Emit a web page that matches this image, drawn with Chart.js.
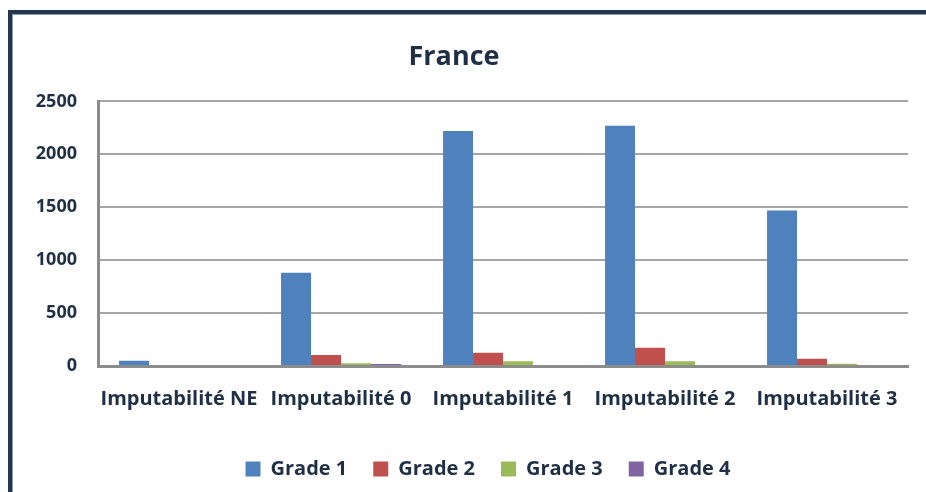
<!DOCTYPE html>
<html>
<head>
<meta charset="utf-8">
<script src="https://cdn.jsdelivr.net/npm/chart.js@4/dist/chart.umd.min.js"></script>
<style>
  html, body { margin: 0; padding: 0; background: #ffffff; }
  #wrap { position: relative; width: 926px; height: 492px; overflow: hidden; background: #fff; }
  #frame { position: absolute; left: 8px; top: 10px; width: 940px; height: 479px;
           border-top: 4px solid #22364f; border-left: 4px solid #22364f; border-bottom: 2px solid #bdbdbd;
           box-shadow: inset 1px 1px 0 #8a9ab0; }
  #c { position: absolute; left: 0; top: 0; }
</style>
</head>
<body>
<div id="wrap">
  <div id="frame"></div>
  <canvas id="c" width="926" height="492"></canvas>
</div>
<script>
const title = "France";
const categories = ["Imputabilité NE", "Imputabilité 0", "Imputabilité 1", "Imputabilité 2", "Imputabilité 3"];
const seriesNames = ["Grade 1", "Grade 2", "Grade 3", "Grade 4"];
const grade1 = [50, 880, 2220, 2270, 1470];
const grade2 = [0, 105, 125, 172, 68];
const grade3 = [0, 25, 45, 45, 22];
const grade4 = [0, 20, 0, 0, 0];
const yTicks = [0, 500, 1000, 1500, 2000, 2500];
const colors = ["#4f81bd", "#c0504d", "#9bbb59", "#8064a2"];

const textColor = "#1f2f46";
const fontFamily = "'Open Sans', Lato, 'DejaVu Sans', sans-serif";
const seriesValues = [grade1, grade2, grade3, grade4];

const legendShift = {
  id: "legendShift",
  afterLayout(chart) {
    if (chart.legend) { chart.legend.left += 34; chart.legend.right += 34; }
  }
};

new Chart(document.getElementById("c"), {
  type: "bar",
  data: {
    labels: categories,
    datasets: seriesNames.map((n, i) => ({
      label: n,
      data: seriesValues[i],
      backgroundColor: colors[i],
      borderWidth: 0,
      categoryPercentage: 0.74,
      barPercentage: 1.0
    }))
  },
  plugins: [legendShift],
  options: {
    responsive: false,
    animation: false,
    devicePixelRatio: 1,
    layout: { padding: { left: 0, right: 18, top: 0, bottom: 3 } },
    plugins: {
      title: {
        display: true,
        text: title,
        color: textColor,
        font: { family: fontFamily, size: 27, weight: "bold" },
        padding: { top: 41, bottom: 28 }
      },
      legend: {
        position: "bottom",
        labels: {
          color: textColor,
          font: { family: fontFamily, size: 20, weight: "bold" },
          boxWidth: 15,
          boxHeight: 15,
          padding: 26
        }
      },
      tooltip: { enabled: false }
    },
    scales: {
      x: {
        grid: { display: false, drawTicks: false },
        border: { display: true, color: "#8c8c8c", width: 3 },
        ticks: {
          color: textColor,
          font: { family: fontFamily, size: 20, weight: "bold" },
          padding: 21,
          maxRotation: 0,
          autoSkip: false
        },
        afterFit: (s) => { s.height = 67; }
      },
      y: {
        min: 0,
        max: 2500,
        afterBuildTicks: (s) => { s.ticks = yTicks.map(v => ({ value: v })); },
        grid: { color: "#a6a6a6", lineWidth: 2, drawTicks: false },
        border: { display: true, color: "#8c8c8c", width: 3 },
        ticks: {
          color: textColor,
          font: { family: fontFamily, size: 18, weight: "bold" },
          padding: 21,
          callback: (v) => String(v)
        },
        afterFit: (s) => { s.width = 98; }
      }
    }
  }
});
</script>
</body>
</html>
